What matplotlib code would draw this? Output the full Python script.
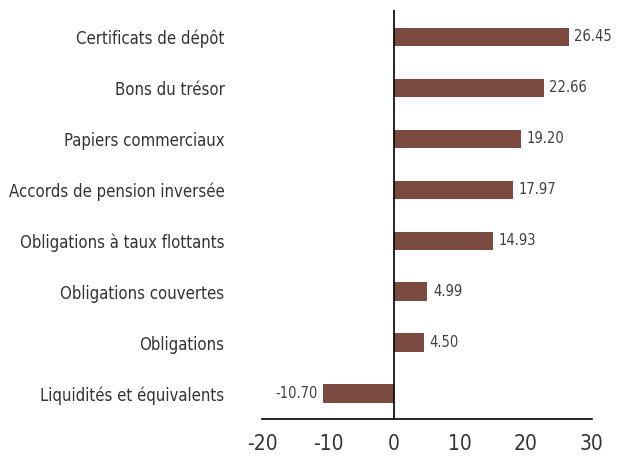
import matplotlib.pyplot as plt
import numpy as np

categories = [
    "Liquidités et équivalents",
    "Obligations",
    "Obligations couvertes",
    "Obligations à taux flottants",
    "Accords de pension inversée",
    "Papiers commerciaux",
    "Bons du trésor",
    "Certificats de dépôt",
]
values = [-10.70, 4.50, 4.99, 14.93, 17.97, 19.20, 22.66, 26.45]
xticks = [-20, -10, 0, 10, 20, 30]

# condensed face, closest to the reference's narrow font
plt.rcParams["font.family"] = ["DejaVu Sans"]
plt.rcParams["font.stretch"] = "condensed"

fig = plt.figure(figsize=(6.2, 4.57), dpi=100)
ax = fig.add_axes([0.4226, 0.0832, 0.5322, 0.895])

y = np.arange(len(categories))
ax.barh(y, values, height=0.36, color="#7b4a40")

for yi, v in zip(y, values):
    if v >= 0:
        ax.text(v + 0.9, yi, f"{v:.2f}", va="center", ha="left", fontsize=10.5, color="#404040")
    else:
        ax.text(v - 0.9, yi, f"{v:.2f}", va="center", ha="right", fontsize=10.5, color="#404040")

ax.set_xlim(-20, 30)
ax.set_ylim(-0.5, 7.53)
ax.set_xticks(xticks)
ax.set_xticklabels([str(t) for t in xticks], fontsize=15, color="#333333")
ax.set_yticks(y)
ax.set_yticklabels(categories, fontsize=12, color="#333333")
ax.tick_params(axis="both", length=0)
ax.tick_params(axis="y", pad=27)
ax.tick_params(axis="x", pad=11)

for s in ["top", "right", "left"]:
    ax.spines[s].set_visible(False)
ax.spines["bottom"].set_linewidth(1.2)
ax.axvline(0, color="black", linewidth=1.2)

fig.savefig("out.png", dpi=100)
